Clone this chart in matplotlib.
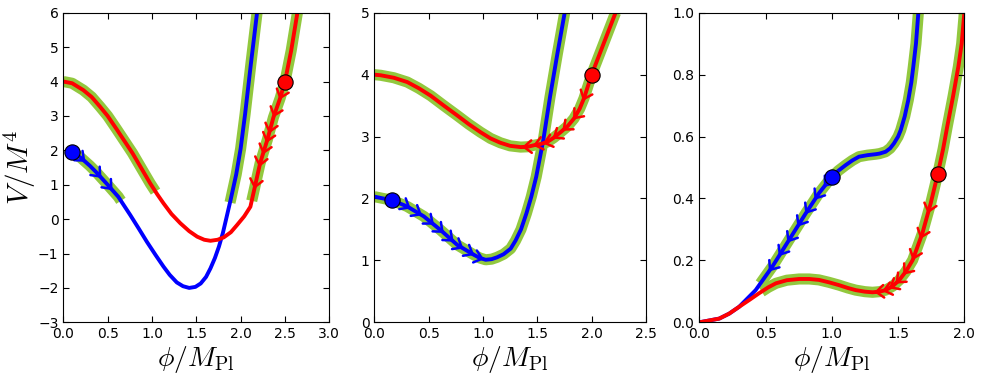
import numpy as np
import matplotlib
matplotlib.use("Agg")
import matplotlib.pyplot as plt

plt.rcParams["mathtext.fontset"] = "cm"

# ---- panel 1 ----
p1_blue_x = [0.1, 0.2, 0.3, 0.377, 0.5, 0.62, 0.755, 0.85, 0.943, 1.04, 1.13, 1.2, 1.28, 1.35, 1.42, 1.49, 1.55,
             1.61, 1.66, 1.71, 1.755, 1.80, 1.83, 1.887, 1.95, 2.0, 2.05, 2.115, 2.185]
p1_blue_y = [1.95, 1.78, 1.55, 1.35, 1.0, 0.65, 0.12, -0.27, -0.66, -1.04, -1.38, -1.62, -1.84, -1.95, -2.0, -1.97, -1.87,
             -1.68, -1.43, -1.13, -0.80, -0.40, -0.07, 0.56, 1.3, 2.05, 3.05, 4.5, 6.0]
p1_red_x = [0.0, 0.1, 0.226, 0.32, 0.414, 0.5, 0.6, 0.78, 0.98, 1.06, 1.13, 1.22, 1.32, 1.42, 1.51, 1.59, 1.66, 1.74, 1.81, 1.89,
            1.96, 2.04, 2.11, 2.144, 2.22, 2.3, 2.37, 2.446, 2.5, 2.57, 2.64]
p1_red_y = [4.0, 3.95, 3.75, 3.55, 3.27, 3.0, 2.62, 1.92, 1.04, 0.72, 0.46, 0.15, -0.12, -0.35, -0.51, -0.6, -0.63, -0.6, -0.53, -0.38,
            -0.17, 0.08, 0.36, 0.75, 1.63, 2.3, 2.96, 3.52, 4.0, 4.9, 6.0]
p1_blue_start = (0.1, 1.95)
p1_red_start = (2.5, 4.0)
p1_blue_green = [(0.1, 0.65), (1.88, 2.185)]
p1_red_green = [(0.0, 1.04), (2.125, 2.64)]
p1_blue_arrows = [0.25, 0.43, 0.555]
p1_red_arrows = [2.44, 2.37, 2.32, 2.29, 2.25, 2.21, 2.155]

# ---- panel 2 ----
p2_blue_x = [0.0, 0.166, 0.304, 0.457, 0.61, 0.764, 0.917, 0.97, 1.025, 1.08, 1.13, 1.19, 1.255, 1.30, 1.35, 1.40,
             1.445, 1.49, 1.555, 1.617, 1.685, 1.752]
p2_blue_y = [2.03, 1.97, 1.87, 1.71, 1.49, 1.25, 1.09, 1.04, 1.01, 1.02, 1.05, 1.1, 1.19, 1.32, 1.5, 1.76,
             2.03, 2.35, 2.94, 3.64, 4.34, 5.0]
p2_red_x = [0.0, 0.059, 0.18, 0.304, 0.41, 0.519, 0.64, 0.764, 0.87, 0.978, 1.07, 1.16, 1.25, 1.347, 1.41, 1.47, 1.53,
            1.59, 1.65, 1.714, 1.78, 1.837, 1.89, 1.93, 2.0, 2.11, 2.22]
p2_red_y = [4.0, 3.99, 3.95, 3.88, 3.78, 3.66, 3.5, 3.34, 3.2, 3.07, 2.97, 2.90, 2.85, 2.83, 2.835, 2.86, 2.88,
            2.91, 2.98, 3.07, 3.17, 3.29, 3.45, 3.62, 4.0, 4.5, 5.0]
p2_blue_start = (0.16, 1.98)
p2_red_start = (2.0, 4.0)
p2_blue_green = [(0.0, 1.752)]
p2_red_green = [(0.0, 2.22)]
p2_blue_arrows = [0.335, 0.44, 0.55, 0.64, 0.73, 0.82, 0.92, 1.01]
p2_red_arrows = [1.92, 1.83, 1.73, 1.64, 1.55, 1.46, 1.36]

# ---- panel 3 ----
p3_blue_x = [0.0, 0.15, 0.225, 0.30, 0.425, 0.551, 0.677, 0.803, 0.903, 1.0, 1.05, 1.105, 1.155, 1.205, 1.27, 1.331,
             1.36, 1.406, 1.44, 1.469, 1.50, 1.52, 1.55, 1.577, 1.6, 1.615, 1.635, 1.653]
p3_blue_y = [0.0, 0.012, 0.028, 0.05, 0.104, 0.18, 0.266, 0.352, 0.417, 0.47, 0.49, 0.508, 0.523, 0.535, 0.54, 0.543,
             0.545, 0.551, 0.562, 0.578, 0.6, 0.621, 0.665, 0.718, 0.775, 0.826, 0.9, 1.0]
p3_red_x = [0.0, 0.15, 0.225, 0.30, 0.38, 0.451, 0.52, 0.578, 0.66, 0.753, 0.83, 0.903, 0.98, 1.055, 1.12, 1.18, 1.25,
            1.307, 1.36, 1.406, 1.46, 1.51, 1.56, 1.61, 1.683, 1.746, 1.8, 1.84, 1.87, 1.915, 1.955, 1.98, 2.0]
p3_red_y = [0.0, 0.012, 0.028, 0.05, 0.073, 0.094, 0.113, 0.126, 0.136, 0.14, 0.14, 0.137, 0.129, 0.12, 0.111, 0.104, 0.099,
            0.097, 0.099, 0.104, 0.117, 0.137, 0.165, 0.201, 0.287, 0.384, 0.48, 0.56, 0.63, 0.73, 0.826, 0.9, 1.0]
p3_blue_start = (1.0, 0.47)
p3_red_start = (1.8, 0.48)
p3_blue_green = [(0.46, 1.653)]
p3_red_green = [(0.47, 2.0)]
p3_blue_arrows = [0.94, 0.87, 0.80, 0.74, 0.665, 0.60, 0.525]
p3_red_arrows = [1.725, 1.668, 1.61, 1.54, 1.48, 1.43, 1.38, 1.32]

green = "#92c83e"


def band(xs, ys, x0, x1):
    xs = np.asarray(xs)
    inside = (xs > x0) & (xs < x1)
    bx = np.concatenate([[x0], xs[inside], [x1]])
    return bx, np.interp(bx, xs, ys)


def chevrons(ax, xs, ys, at, sign, color):
    for xa in at:
        xb = xa - sign * 0.006
        ax.annotate("", xy=(xa, np.interp(xa, xs, ys)), xytext=(xb, np.interp(xb, xs, ys)),
                    arrowprops=dict(arrowstyle="->,head_length=0.6,head_width=0.5", color=color,
                                    lw=1.8, mutation_scale=9, shrinkA=0, shrinkB=0), zorder=3)


def panel(ax, bx, by, rx, ry, bstart, rstart, bgreen, rgreen, barrows, bsign, rarrows, rsign):
    for x0, x1 in bgreen:
        gx, gy = band(bx, by, x0, x1)
        ax.plot(gx, gy, color=green, lw=8, solid_capstyle="butt", zorder=1)
    for x0, x1 in rgreen:
        gx, gy = band(rx, ry, x0, x1)
        ax.plot(gx, gy, color=green, lw=8, solid_capstyle="butt", zorder=1)
    ax.plot(bx, by, color="blue", lw=2.8, zorder=2)
    ax.plot(rx, ry, color="red", lw=2.8, zorder=2)
    chevrons(ax, bx, by, barrows, bsign, "blue")
    chevrons(ax, rx, ry, rarrows, rsign, "red")
    ax.plot(*bstart, "o", color="blue", ms=11, mec="black", mew=0.8, zorder=4, clip_on=False)
    ax.plot(*rstart, "o", color="red", ms=11, mec="black", mew=0.8, zorder=4, clip_on=False)
    ax.tick_params(direction="in", top=True, right=True, length=4, labelsize=10)
    ax.set_xlabel(r"$\phi/M_{\rm Pl}$", fontsize=20, labelpad=2)


fig = plt.figure(figsize=(9.81, 3.8), dpi=100)
ax1 = fig.add_axes([0.0645, 0.1518, 0.2712, 0.8147])
ax2 = fig.add_axes([0.3815, 0.1518, 0.2770, 0.8147])
ax3 = fig.add_axes([0.7129, 0.1518, 0.2701, 0.8147])

panel(ax1, p1_blue_x, p1_blue_y, p1_red_x, p1_red_y, p1_blue_start, p1_red_start,
      p1_blue_green, p1_red_green, p1_blue_arrows, 1, p1_red_arrows, -1)
ax1.set_xlim(0, 3)
ax1.set_ylim(-3, 6)
ax1.set_ylabel(r"$V/M^4$", fontsize=21, labelpad=0)

panel(ax2, p2_blue_x, p2_blue_y, p2_red_x, p2_red_y, p2_blue_start, p2_red_start,
      p2_blue_green, p2_red_green, p2_blue_arrows, 1, p2_red_arrows, -1)
ax2.set_xlim(0, 2.5)
ax2.set_ylim(0, 5)

panel(ax3, p3_blue_x, p3_blue_y, p3_red_x, p3_red_y, p3_blue_start, p3_red_start,
      p3_blue_green, p3_red_green, p3_blue_arrows, -1, p3_red_arrows, -1)
ax3.set_xlim(0, 2)
ax3.set_ylim(0, 1)

fig.savefig("out.png", dpi=100)
